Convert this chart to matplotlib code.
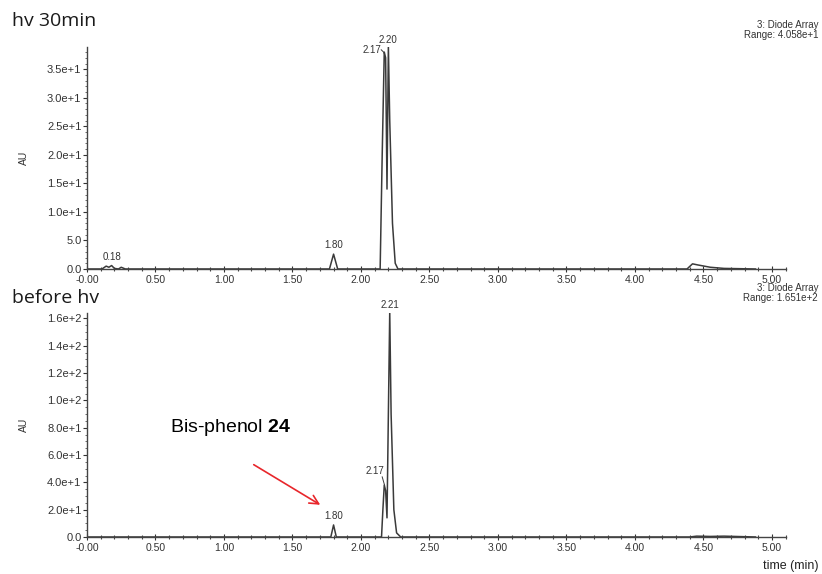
import matplotlib
matplotlib.use('Agg')
import matplotlib.pyplot as plt
from matplotlib.ticker import MultipleLocator, FixedLocator

# chromatogram traces (time in min, AU)
topTimes = [0.00, 0.11, 0.14, 0.16, 0.18, 0.20, 0.23, 0.25, 0.28, 0.32,
            1.77, 1.80, 1.83,
            2.14, 2.155, 2.17, 2.18, 2.19, 2.20, 2.21, 2.23, 2.25, 2.27,
            4.38, 4.42, 4.46, 4.55, 4.65, 4.88]
topValues = [0.0, 0.0, 0.5, 0.3, 0.6, 0.1, 0.0, 0.3, 0.0, 0.0,
             0.0, 2.6, 0.0,
             0.0, 20.0, 38.0, 37.0, 14.0, 39.0, 26.0, 8.0, 1.0, 0.0,
             0.0, 0.9, 0.7, 0.3, 0.1, 0.0]

bottomTimes = [0.00, 1.78, 1.80, 1.82,
               2.15, 2.16, 2.17, 2.18, 2.19, 2.20, 2.21, 2.22, 2.24, 2.26, 2.29,
               4.40, 4.45, 4.55, 4.65, 4.88]
bottomValues = [0.0, 0.0, 8.8, 0.0,
                0.0, 20.0, 38.0, 34.0, 14.0, 90.0, 165.0, 90.0, 20.0, 3.0, 0.0,
                0.0, 0.6, 0.4, 0.6, 0.0]

topPeakLabels = [('0.18', 0.18, 1.2), ('1.80', 1.80, 3.4)]
bottomPeakLabels = [('1.80', 1.80, 11.5)]

xTicks = [0.0, 0.5, 1.0, 1.5, 2.0, 2.5, 3.0, 3.5, 4.0, 4.5, 5.0]
xTickLabels = ['-0.00', '0.50', '1.00', '1.50', '2.00', '2.50', '3.00', '3.50', '4.00', '4.50', '5.00']
topYTicks = [0, 5, 10, 15, 20, 25, 30, 35]
topYLabels = ['0.0', '5.0', '1.0e+1', '1.5e+1', '2.0e+1', '2.5e+1', '3.0e+1', '3.5e+1']
bottomYTicks = [0, 20, 40, 60, 80, 100, 120, 140, 160]
bottomYLabels = ['0.0', '2.0e+1', '4.0e+1', '6.0e+1', '8.0e+1', '1.0e+2', '1.2e+2', '1.4e+2', '1.6e+2']

traceColor = '#3a3a3a'

plt.rcParams['font.family'] = ['Liberation Sans', 'DejaVu Sans']
plt.rcParams['mathtext.fontset'] = 'custom'
plt.rcParams['mathtext.rm'] = 'Liberation Sans'
plt.rcParams['mathtext.bf'] = 'Liberation Sans:bold'

fig = plt.figure(figsize=(8.22, 5.74), dpi=100)
axTop = fig.add_axes([0.1058, 0.5314, 0.850, 0.3868])
axBottom = fig.add_axes([0.1058, 0.0645, 0.850, 0.3902])


def styleAxis(ax, yTicks, yLabels, yMinor, yMax):
    for side in ['top', 'right']:
        ax.spines[side].set_visible(False)
    for side in ['left', 'bottom']:
        ax.spines[side].set_color('#444444')
        ax.spines[side].set_linewidth(1.0)
    ax.set_xlim(-0.0, 5.10)
    ax.set_ylim(0, yMax)
    ax.set_xticks(xTicks)
    ax.set_xticklabels(xTickLabels)
    ax.xaxis.set_minor_locator(MultipleLocator(0.1))
    ax.yaxis.set_major_locator(FixedLocator(yTicks))
    ax.set_yticklabels(yLabels)
    ax.yaxis.set_minor_locator(MultipleLocator(yMinor))
    ax.tick_params(axis='x', which='major', direction='inout', length=4, width=0.8,
                   labelsize=7.5, pad=2, colors='#333333')
    ax.tick_params(axis='x', which='minor', direction='inout', length=2.5, width=0.8,
                   colors='#444444')
    ax.tick_params(axis='y', which='major', direction='out', length=3, width=0.8,
                   labelsize=8, pad=1, colors='#333333')
    ax.tick_params(axis='y', which='minor', direction='out', length=1.5, width=0.6,
                   colors='#555555')
    ax.set_ylabel('AU', fontsize=7.5, labelpad=13, color='#333333')


styleAxis(axTop, topYTicks, topYLabels, 1, 38.9)
styleAxis(axBottom, bottomYTicks, bottomYLabels, 5, 164)

axTop.plot(topTimes, topValues, color=traceColor, linewidth=1.1)
axBottom.plot(bottomTimes, bottomValues, color=traceColor, linewidth=1.1)

for label, x, y in topPeakLabels:
    axTop.text(x, y, label, fontsize=7, ha='center', va='bottom', color='#333333')
for label, x, y in bottomPeakLabels:
    axBottom.text(x, y, label, fontsize=7, ha='center', va='bottom', color='#333333')

# overlapping peaks with leader lines
axTop.text(2.145, 38.4, '2.17', fontsize=7, ha='right', va='center', color='#333333', clip_on=False)
axTop.plot([2.148, 2.165], [38.4, 38.0], color=traceColor, linewidth=0.7)
axTop.text(2.20, 39.3, '2.20', fontsize=7, ha='center', va='bottom', color='#333333', clip_on=False)
axBottom.text(2.17, 45.0, '2.17', fontsize=7, ha='right', va='bottom', color='#333333')
axBottom.plot([2.155, 2.172], [44.0, 38.0], color=traceColor, linewidth=0.7)
axBottom.text(2.21, 166.5, '2.21', fontsize=7, ha='center', va='bottom', color='#333333', clip_on=False)

# panel titles and annotations
fig.text(12 / 822, 1 - 21 / 574, 'hv 30min', fontsize=14, family='Open Sans', va='center', ha='left',
         color='#1a1a1a')
fig.text(12 / 822, 1 - 298 / 574, 'before hv', fontsize=14, family='Open Sans', va='center', ha='left',
         color='#1a1a1a')
fig.text(818 / 822, 1 - 30 / 574, '3: Diode Array\nRange: 4.058e+1', fontsize=7, ha='right',
         va='center', linespacing=0.95, color='#333333')
fig.text(818 / 822, 1 - 293 / 574, '3: Diode Array\nRange: 1.651e+2', fontsize=7, ha='right',
         va='center', linespacing=0.95, color='#333333')
fig.text(818 / 822, 1 - 566 / 574, 'time (min)', fontsize=9, ha='right', va='center', color='#222222')
fig.text(170 / 822, 1 - 427 / 574, 'Bis-phenol $\\mathbf{24}$', fontsize=14, ha='left', va='center')

axBottom.annotate('', xy=(1.72, 22.5), xytext=(1.20, 54.0),
                  arrowprops=dict(arrowstyle='->', color='#e8262b', linewidth=1.2,
                                  mutation_scale=16))

fig.savefig('out.png', dpi=100, facecolor='white')
